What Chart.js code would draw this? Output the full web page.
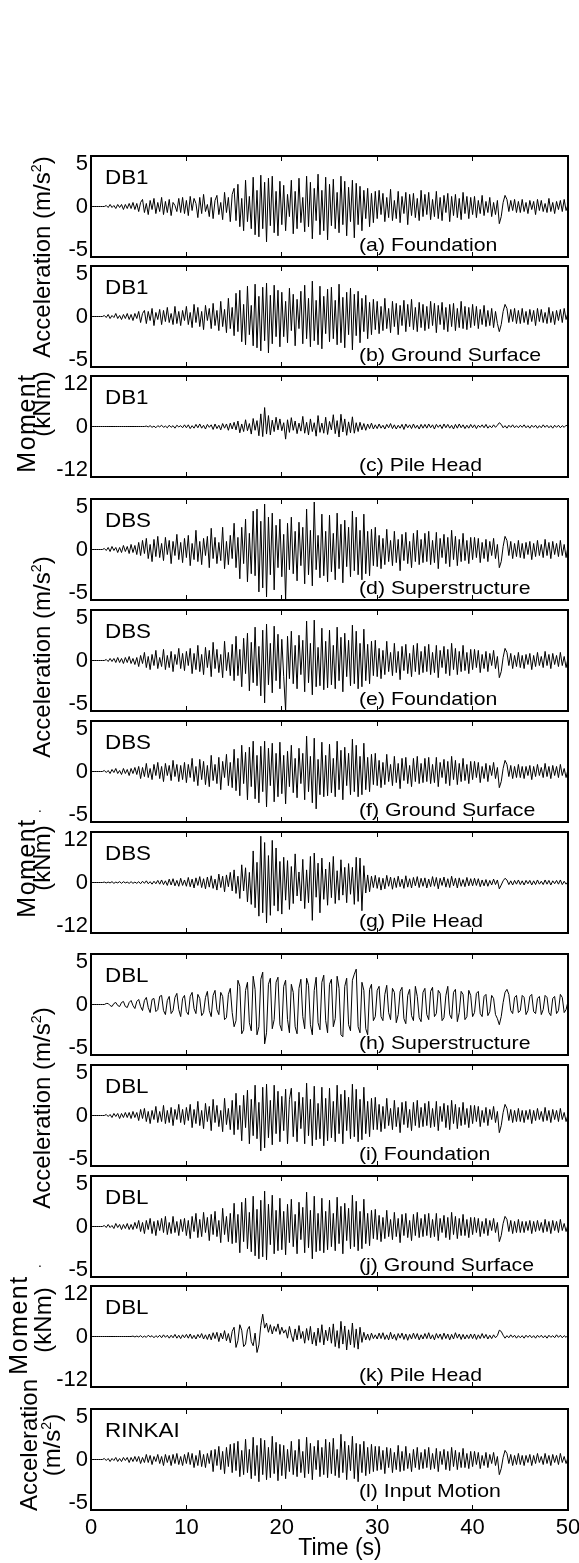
<!DOCTYPE html>
<html><head><meta charset="utf-8">
<script src="https://cdn.jsdelivr.net/npm/chart.js@4.4.1/dist/chart.umd.min.js"></script>
<style>
html,body{margin:0;padding:0;background:#fff;}
body{width:579px;height:1563px;position:relative;overflow:hidden;font-family:'Liberation Sans',Arial,Helvetica,sans-serif;color:#000;}
canvas{position:absolute;left:0;}
.t{position:absolute;white-space:nowrap;line-height:1;transform-origin:0 0;}
.rot{position:absolute;white-space:nowrap;line-height:1;transform:translate(-50%,-50%) rotate(-90deg);font-size:24px;}
.sup{font-size:0.6em;position:relative;top:-0.62em;}
</style></head><body>
<script>
// ---- sampling, tick labels ----
const DT = 0.2; // s between samples (0 ... 50 s)
const X_TICKS = [0, 10, 20, 30, 40, 50];
const ACC_TICKS = [-5, 0, 5];
const MOM_TICKS = [-12, 0, 12];
const STATIONS = ['DB1','DB1','DB1','DBS','DBS','DBS','DBS','DBL','DBL','DBL','DBL','RINKAI'];
const PANEL_LABELS = ['(a) Foundation','(b) Ground Surface','(c) Pile Head','(d) Superstructure','(e) Foundation','(f) Ground Surface','(g) Pile Head','(h) Superstructure','(i) Foundation','(j) Ground Surface','(k) Pile Head','(l) Input Motion'];

// ---- series (acceleration m/s^2, moment kNm) ----
const DB1_FOUNDATION = [
0,0,0,0,0,0,0,0,0.1,-0.1,0.2,-0.1,0.1,-0.2,0.2,-0.1,0.2,-0.3,0.2,-0.2,0.3,-0.2,0.4,-0.3,0.3,
-0.5,0.4,0.7,-0.6,0.3,-0.8,0.6,-0.3,0.8,-0.7,0.4,-0.5,0.9,-0.8,0.5,-0.6,0.7,-0.9,0.4,0.1,-0.5,0.8,-0.6,0.9,-0.7,
0.6,-0.9,1.0,-0.4,0.8,0.3,-1.1,0.9,-0.7,1.2,-0.5,0.2,-1.0,0.9,-1.2,0.6,1.1,-0.8,0.4,-1.3,1.4,-0.6,0.9,-1.5,1.2,
1.8,-1.4,2.2,-2.0,0.8,-2.4,2.6,-1.5,1.0,-2.2,2.9,-2.8,1.6,-3.0,3.1,-2.2,2.4,-3.5,2.8,-1.9,3.0,-2.6,1.5,-2.9,2.5,
-1.8,2.1,-2.4,1.2,-1.0,2.6,-2.7,1.5,-2.2,2.8,-1.6,0.9,-2.5,3.0,-2.0,2.4,-3.2,1.8,-1.4,3.2,-2.8,1.6,-2.4,2.9,-3.3,
2.2,-1.9,2.7,-2.2,1.4,-2.6,3.0,-1.8,2.5,-2.9,1.9,-1.5,2.6,-3.1,2.3,-1.8,2.0,-2.4,1.6,-1.2,1.8,-2.0,1.3,-1.6,1.5,
-1.2,1.6,-0.8,1.3,-1.5,0.9,-1.1,1.7,-1.4,0.6,-1.2,1.5,-1.6,1.0,-0.7,1.4,-1.8,1.2,-0.9,1.3,-1.1,0.8,-1.4,1.6,-1.0,
1.2,-0.8,1.4,-1.3,0.7,-1.0,1.5,-1.2,0.9,-1.4,1.1,-0.6,1.3,-1.5,1.0,-0.9,1.2,-1.1,0.8,-1.3,1.4,-0.7,1.0,-1.2,0.9,
-0.8,1.0,-1.1,0.6,-0.7,1.1,-0.9,0.5,-0.6,0.9,-1.0,0.4,-0.8,0.6,-1.7,-1.0,0.4,1.1,0.7,-0.5,0.6,-0.4,0.7,-0.6,0.5,
-0.6,0.7,-0.5,0.4,-0.7,0.6,-0.3,0.5,-0.8,0.7,-0.4,0.6,-0.5,0.3,-0.6,0.8,-0.5,0.4,-0.7,0.5,-0.3,0.6,-0.5,0.7,-0.4,
0.2];
const DB1_GROUND = [
0,0,0,0,0,0,0,0.1,-0.1,0.2,-0.2,0.1,-0.1,0.3,-0.2,0.1,-0.3,0.2,-0.2,0.3,-0.3,0.2,-0.4,0.3,-0.2,
0.5,-0.6,0.3,0.6,-0.7,0.5,-0.4,0.8,-0.9,0.4,-0.3,0.7,-0.8,0.6,-0.5,0.9,-0.6,0.3,-0.8,1.0,-0.7,0.5,-0.9,0.6,-0.4,
1.0,-0.8,0.4,-1.1,1.2,-0.6,0.9,-1.0,0.5,-1.3,1.1,-0.4,0.8,-1.2,1.3,-0.9,0.6,-1.4,1.5,-1.0,0.7,-1.6,1.8,-1.2,0.9,
-1.9,2.3,-1.5,2.6,-2.5,1.2,-2.8,3.0,-1.8,1.1,-2.9,3.2,-3.1,2.0,-3.4,2.9,-2.4,3.3,-3.6,2.1,-2.7,3.1,-2.0,2.6,-3.0,
2.4,-2.0,1.5,-2.6,2.8,-1.4,2.2,-2.9,1.7,-1.2,2.5,-2.7,3.1,-2.2,1.8,-3.0,3.5,-2.4,1.6,-2.8,3.0,-3.2,2.0,-1.7,2.7,
-2.5,2.9,-2.2,1.6,-2.8,3.2,-2.6,1.9,-3.1,2.4,-1.8,2.8,-3.3,2.2,-1.9,2.5,-2.6,1.8,-1.5,2.1,-2.2,1.4,-1.8,1.7,-1.3,
1.5,-1.7,1.0,-1.4,1.8,-1.2,0.8,-1.6,1.5,-1.0,1.3,-1.8,1.1,-0.9,1.6,-1.5,1.2,-1.0,1.7,-1.3,0.9,-1.5,1.4,-1.1,1.2,
-1.4,1.0,-1.2,1.5,-0.9,1.3,-1.6,1.1,-0.8,1.4,-1.3,0.9,-1.5,1.2,-1.0,1.3,-1.4,0.8,-1.1,1.5,-1.2,1.0,-1.3,0.9,-1.1,
1.2,-0.9,1.0,-1.2,0.7,-0.8,1.1,-1.0,0.6,-0.9,0.8,-1.1,0.5,-0.7,-1.5,-0.8,0.5,1.2,0.8,-0.6,0.7,-0.5,0.8,-0.7,0.6,
-0.7,0.8,-0.6,0.5,-0.8,0.7,-0.5,0.6,-0.9,0.8,-0.5,0.7,-0.6,0.4,-0.7,0.9,-0.6,0.5,-0.8,0.6,-0.4,0.7,-0.6,0.8,-0.3,
0.4];
const DB1_PILE = [
0,0,0,0,0,0,0,0,0,0,0,0,0,0,0,0,0,0,0,0,0,0,0,0,0,
0,0,0,0,0.1,-0.1,0.2,-0.2,0.1,-0.3,0.2,-0.1,0.3,-0.2,0.1,-0.3,0.3,-0.2,0.2,-0.4,0.3,-0.1,0.2,-0.3,0.4,
-0.3,0.4,-0.5,0.2,-0.4,0.5,-0.3,0.6,-0.4,0.3,-0.6,0.5,-0.2,0.4,-0.7,0.6,-0.5,0.3,-0.8,0.7,-0.4,0.6,-0.9,0.8,-0.6,
1.0,-0.8,1.3,-1.5,0.6,-1.2,1.6,-1.0,0.7,-1.8,1.9,-0.9,1.4,-2.2,3.0,-2.4,4.5,-1.8,2.6,-2.0,1.5,-1.2,2.2,-0.8,1.8,
-1.0,0.9,-3.0,1.6,-1.4,2.1,-0.9,1.3,-1.7,0.8,-1.1,2.4,-1.6,1.0,-2.0,1.8,-1.2,0.9,-2.3,2.6,-1.4,0.8,-1.6,2.2,-1.9,
1.2,-0.8,2.8,-1.7,1.4,-2.5,2.9,-1.3,1.8,-2.1,1.1,-1.5,2.3,-1.6,0.9,-1.2,1.0,-0.8,0.7,-0.9,0.6,-0.5,0.8,-0.6,0.4,
-0.5,0.6,-0.4,0.3,-0.6,0.5,-0.3,0.7,-0.5,0.4,-0.6,0.3,-0.4,0.5,-0.7,0.6,-0.3,0.4,-0.5,0.6,-0.4,0.3,-0.6,0.5,-0.4,
0.5,-0.4,0.6,-0.3,0.4,-0.6,0.5,-0.2,0.4,-0.5,0.6,-0.3,0.5,-0.4,0.3,-0.6,0.5,-0.4,0.6,-0.3,0.4,-0.5,0.3,-0.4,0.5,
-0.3,0.4,-0.5,0.3,-0.2,0.4,-0.3,0.5,-0.4,0.2,-0.3,0.4,-0.2,0.3,0.9,0.5,-0.3,0.2,-0.4,0.3,-0.2,0.4,-0.3,0.2,-0.3,
0.3,-0.2,0.4,-0.3,0.2,-0.4,0.3,-0.2,0.3,-0.4,0.2,-0.3,0.4,-0.2,0.3,-0.3,0.2,-0.4,0.3,-0.2,0.3,-0.3,0.2,-0.2,0.3,
0];
const DBS_SUPER = [
0,0,0,0,0,0,0,0.1,-0.1,0.2,-0.2,0.3,-0.1,0.2,-0.3,0.2,-0.3,0.4,-0.2,0.3,-0.4,0.5,-0.3,0.4,-0.5,
0.7,-0.6,0.9,-0.4,1.1,-0.9,0.5,-1.2,1.0,-0.7,1.3,-0.8,0.6,-1.1,1.2,-0.5,0.9,-1.4,0.8,-0.6,1.5,-1.0,0.7,-1.3,1.1,
-0.8,1.4,-1.6,0.6,-1.0,1.9,-1.2,0.8,-1.5,1.1,-0.6,1.3,-1.8,2.1,-0.9,1.2,-1.4,0.7,-1.1,2.2,-1.9,0.8,-1.5,1.4,-0.9,
2.6,-1.8,1.2,-2.9,2.2,-1.4,3.0,-3.2,1.6,-2.4,3.8,-2.6,4.0,-4.2,2.8,-3.8,4.5,-4.7,3.2,-2.5,3.6,-4.0,2.4,-1.8,3.0,
-2.7,1.5,-5.0,2.6,-2.0,3.2,-2.4,1.8,-3.1,2.7,-1.6,2.2,-3.4,4.0,-2.5,1.9,-3.6,4.7,-2.0,1.4,-2.8,3.5,-2.6,1.8,-3.2,
3.4,-2.2,1.6,-3.0,3.6,-1.9,2.5,-3.3,2.9,-1.7,2.2,-2.7,3.8,-2.1,3.2,-2.5,1.9,-3.0,3.5,-2.4,1.8,-2.6,2.0,-1.6,2.2,
-1.7,1.4,-1.9,1.1,-1.5,2.0,-1.2,0.9,-1.6,1.8,-1.3,1.0,-2.1,1.5,-1.1,1.7,-1.4,0.8,-1.8,1.6,-1.2,1.9,-1.5,1.0,-1.3,
1.6,-1.2,1.8,-1.5,0.9,-1.3,1.7,-1.9,1.1,-0.8,1.5,-1.4,1.2,-1.7,1.9,-1.0,1.3,-1.6,1.0,-1.2,1.6,-1.1,0.9,-1.4,1.2,
-1.0,1.2,-0.8,1.1,-1.3,0.7,-0.9,1.0,-1.2,0.8,-0.6,1.1,-0.9,0.5,-1.8,-1.2,0.3,1.3,0.9,-0.6,0.8,-0.9,0.6,-0.7,0.9,
-0.8,0.6,-0.9,0.7,-0.5,0.8,-1.0,0.6,-0.7,0.9,-0.6,0.5,-0.8,1.0,-0.6,0.7,-0.9,0.8,-0.5,0.6,-0.7,0.9,-0.6,0.5,-0.8,
0.3];
const DBS_FOUNDATION = [
0,0,0,0,0,0,0,0,0.1,-0.1,0.2,-0.1,0.2,-0.2,0.3,-0.2,0.2,-0.3,0.3,-0.2,0.4,-0.3,0.2,-0.4,0.3,
-0.6,0.5,-0.3,0.8,-0.7,0.4,-0.9,0.6,-0.5,1.0,-0.8,0.3,-0.6,1.1,-0.9,0.5,-0.7,0.9,-1.1,0.6,-0.4,1.2,-0.8,0.7,-1.0,
0.9,-0.5,1.2,-1.3,0.7,-0.9,1.5,-1.1,0.6,-1.4,1.3,-0.7,1.0,-1.6,1.8,-0.8,1.1,-1.2,0.6,-1.7,1.9,-1.0,0.8,-1.5,1.6,
-2.0,2.4,-1.5,1.1,-2.6,2.2,-1.3,2.7,-3.0,1.8,-2.2,3.3,-2.5,1.4,-3.5,3.0,-4.2,3.6,-2.4,1.7,-3.2,3.4,-2.0,2.6,-2.8,
2.1,-1.6,-5.0,2.4,-1.8,2.9,-2.3,1.5,-2.8,2.5,-1.4,2.0,-3.1,3.9,-2.2,1.7,-3.4,4.0,-2.6,1.3,-2.5,3.2,-2.9,1.9,-2.7,
3.0,-2.4,1.5,-2.8,3.3,-2.0,2.3,-3.1,2.7,-1.6,2.0,-2.5,3.5,-2.3,2.9,-2.8,1.7,-2.6,3.1,-2.0,1.6,-2.3,1.9,-1.5,2.0,
-1.6,1.2,-1.8,1.0,-1.4,1.9,-1.1,0.8,-1.5,1.7,-1.2,0.9,-1.9,1.4,-1.0,1.6,-1.3,0.7,-1.6,1.5,-1.1,1.7,-1.4,0.9,-1.2,
1.4,-1.1,1.6,-1.4,0.8,-1.2,1.5,-1.7,1.0,-0.7,1.4,-1.3,1.1,-1.5,1.7,-0.9,1.2,-1.4,0.9,-1.1,1.5,-1.0,0.8,-1.3,1.1,
-0.9,1.1,-0.7,1.0,-1.2,0.6,-0.8,0.9,-1.1,0.7,-0.5,1.0,-0.8,0.4,-1.7,-1.1,0.3,1.2,0.8,-0.5,0.7,-0.8,0.5,-0.6,0.8,
-0.7,0.5,-0.8,0.6,-0.4,0.7,-0.9,0.5,-0.6,0.8,-0.5,0.4,-0.7,0.9,-0.5,0.6,-0.8,0.7,-0.4,0.5,-0.6,0.8,-0.5,0.4,-0.7,
0.2];
const DBS_GROUND = [
0,0,0,0,0,0,0,0.1,-0.1,0.1,-0.2,0.2,-0.1,0.3,-0.2,0.1,-0.3,0.3,-0.2,0.2,-0.4,0.3,-0.2,0.4,-0.3,
0.5,-0.7,0.4,-0.5,0.8,-0.6,0.3,-0.8,0.7,-0.4,0.9,-0.7,0.5,-1.0,0.8,-0.4,0.6,-0.9,1.1,-0.5,0.7,-1.0,0.6,-0.8,0.9,
-1.1,0.7,-0.6,1.3,-1.0,0.5,-1.4,1.2,-0.8,1.0,-1.3,0.6,-1.5,1.6,-0.9,0.7,-1.2,1.4,-1.8,1.0,-0.6,1.7,-1.4,0.9,-1.6,
2.2,-1.9,1.3,-2.4,2.6,-1.2,1.9,-2.8,2.4,-1.5,3.0,-2.7,1.6,-3.1,2.5,-2.0,3.0,-3.5,2.3,-1.4,2.8,-3.0,1.8,-2.5,2.9,
-2.2,1.6,-3.2,2.0,-1.5,2.6,-2.1,1.3,-2.6,2.3,-1.2,1.8,-2.8,3.5,-2.0,1.5,-3.1,3.3,-3.7,1.2,-2.3,2.9,-2.5,1.6,-2.4,
2.7,-2.1,1.3,-2.5,3.0,-1.8,2.1,-2.8,2.4,-1.4,1.8,-2.3,3.2,-2.0,2.6,-2.5,1.5,-2.3,2.8,-1.8,1.4,-2.0,1.7,-1.3,1.8,
-1.4,1.1,-1.6,0.9,-1.3,1.7,-1.0,0.7,-1.4,1.5,-1.1,0.8,-1.7,1.3,-0.9,1.4,-1.2,0.6,-1.5,1.3,-1.0,1.5,-1.2,0.8,-1.1,
1.3,-1.0,1.4,-1.2,0.7,-1.1,1.4,-1.5,0.9,-0.6,1.2,-1.2,1.0,-1.4,1.5,-0.8,1.1,-1.3,0.8,-1.0,1.3,-0.9,0.7,-1.2,1.0,
-0.8,1.0,-0.6,0.9,-1.1,0.5,-0.7,0.8,-1.0,0.6,-0.4,0.9,-0.7,0.4,-1.6,-1.0,0.3,1.1,0.7,-0.5,0.6,-0.7,0.5,-0.6,0.7,
-0.6,0.5,-0.7,0.5,-0.4,0.6,-0.8,0.5,-0.5,0.7,-0.4,0.4,-0.6,0.8,-0.5,0.5,-0.7,0.6,-0.4,0.5,-0.6,0.7,-0.4,0.3,-0.6,
0.2];
const DBS_PILE = [
0,0,0,0,0,0,0,0.1,-0.1,0.1,-0.1,0.2,-0.2,0.1,-0.1,0.2,-0.2,0.2,-0.1,0.1,-0.2,0.2,-0.2,0.1,-0.2,
0.2,-0.3,0.3,-0.2,0.4,-0.3,0.2,-0.4,0.3,-0.3,0.5,-0.4,0.6,-0.5,0.4,-0.7,0.8,-0.6,0.9,-0.8,0.5,-0.9,1.0,-0.7,0.6,
-0.9,1.2,-1.0,0.8,-1.3,1.1,-0.7,1.4,-1.2,0.9,-1.5,1.3,-1.1,1.6,-1.4,0.8,-1.8,2.0,-1.2,1.5,-2.2,1.8,-1.0,2.4,-2.0,
3.0,-2.6,1.5,-3.8,4.2,-2.0,3.5,-4.6,2.4,-5.2,7.5,-6.0,4.8,-8.0,11.0,-7.2,9.5,-9.6,6.4,-7.8,10.0,-5.5,8.2,-6.8,5.0,
-7.5,6.0,-4.2,5.2,-6.4,3.8,-5.0,6.8,-3.2,2.5,-4.4,5.5,-6.2,3.0,-4.8,6.2,-9.0,7.0,-3.5,4.6,-7.2,5.8,-4.0,3.2,-5.4,
4.8,-3.6,6.2,-5.0,2.8,-4.2,5.4,-3.0,3.6,-4.8,4.5,-2.8,3.6,-5.2,6.0,-4.5,5.8,-6.7,4.0,-2.5,1.8,-2.2,1.5,-1.2,1.7,
-1.4,1.2,-1.8,1.0,-1.5,1.7,-0.9,1.3,-1.6,1.1,-1.2,1.5,-1.0,0.8,-1.4,1.6,-1.1,0.9,-1.3,1.2,-0.8,1.4,-1.2,1.0,-0.9,
1.1,-1.3,0.8,-1.0,1.4,-0.9,1.2,-1.5,1.0,-0.7,1.3,-1.1,0.9,-1.2,1.5,-0.8,1.0,-1.3,1.1,-0.9,0.7,-1.0,1.2,-0.8,0.9,
-0.8,1.0,-0.7,0.9,-1.0,0.6,-0.8,0.7,-0.9,0.5,-0.6,0.8,-0.5,0.6,-1.5,-0.6,0.4,1.0,0.6,-0.5,0.4,-0.6,0.5,-0.4,0.6,
-0.5,0.4,-0.6,0.5,-0.3,0.5,-0.6,0.4,-0.5,0.6,-0.4,0.3,-0.5,0.6,-0.4,0.5,-0.6,0.4,-0.3,0.5,-0.4,0.6,-0.5,0.3,-0.4,
0.2];
const DBL_SUPER = [
0,0,0,0,0,0,0,0,0.1,0.1,-0.1,-0.2,0.1,0.2,-0.1,-0.2,0.2,0.3,-0.2,-0.3,0.2,0.4,-0.1,-0.4,0.3,
0.5,-0.2,-0.6,0.4,0.7,-0.3,-0.8,0.5,0.6,-0.7,-0.5,0.8,0.9,-0.6,-1.0,0.4,0.8,-0.9,-0.6,0.7,1.1,-0.5,-1.2,0.6,0.9,
-0.7,-1.0,0.8,1.2,-0.4,-0.9,1.0,0.6,-1.1,-0.8,0.7,1.3,-0.6,-1.2,0.9,1.4,-0.5,-1.0,1.2,0.8,-1.5,-1.3,1.0,1.6,-0.8,
-2.2,-1.6,2.4,1.8,-2.9,-2.5,1.4,2.2,-1.8,-2.6,2.8,1.5,-3.0,-2.2,2.5,3.2,-3.9,-2.8,2.0,2.6,-2.4,-1.5,2.2,2.7,-2.0,
-2.6,1.8,2.4,-1.5,-2.8,2.0,1.2,-2.2,-2.9,1.6,2.5,-1.2,-2.4,2.6,1.9,-2.0,-3.0,1.4,2.7,-1.8,-2.5,2.2,2.9,-1.6,-2.8,
2.0,2.5,-2.2,-1.4,2.8,1.6,-3.0,-3.2,1.8,2.6,-2.0,-2.6,2.4,3.0,3.5,-2.2,-2.8,2.2,1.4,-2.4,-3.0,1.5,2.0,-1.6,-1.2,
1.4,1.8,-1.2,-1.6,1.0,1.9,-0.8,-1.5,1.6,1.2,-1.8,-1.0,1.3,1.7,-1.4,-1.9,0.9,1.5,-1.1,-1.6,1.8,0.8,-1.3,-1.7,1.2,
1.6,-1.0,-1.5,1.3,1.7,-1.2,-0.9,1.4,1.1,-1.6,-1.3,0.9,1.8,-1.0,-1.4,1.2,1.5,-1.7,-0.8,1.3,1.0,-1.5,-1.2,1.4,0.9,
-1.2,-0.8,1.1,1.3,-0.9,-1.2,0.8,1.0,-1.1,-0.7,0.9,0.6,-1.0,-1.4,-2.0,-1.2,0.2,1.2,1.5,1.0,-0.6,-0.9,0.7,0.9,-0.8,
-0.6,0.9,0.7,-1.0,-0.6,0.8,1.0,-0.7,-0.9,0.6,0.8,-1.0,-0.5,0.9,0.7,-0.8,-1.1,0.6,0.8,-0.9,-0.6,1.0,0.7,-0.8,-0.5,
0.3];
const DBL_FOUNDATION = [
0,0,0,0,0,0,0,0,0.1,-0.1,0.1,-0.2,0.2,-0.1,0.2,-0.3,0.2,-0.2,0.3,-0.2,0.3,-0.3,0.4,-0.2,0.3,
-0.5,0.6,-0.3,0.7,-0.6,0.4,-0.8,0.5,-0.4,0.9,-0.7,0.4,-0.6,1.0,-0.8,0.5,-0.7,0.8,-1.0,0.6,-0.4,1.1,-0.7,0.6,-0.9,
0.8,-0.5,1.1,-1.2,0.6,-0.8,1.4,-1.0,0.5,-1.3,1.2,-0.6,0.9,-1.5,1.6,-0.7,1.0,-1.1,0.5,-1.6,1.7,-0.9,0.7,-1.4,1.5,
-1.9,2.2,-1.4,1.0,-2.5,2.0,-1.2,2.5,-2.8,1.6,-2.0,3.0,-2.3,1.3,-3.5,2.8,-3.2,3.1,-2.2,1.5,-2.9,3.0,-1.8,2.4,-2.6,
1.9,-1.5,2.6,-2.8,1.6,2.7,-2.1,1.4,-2.6,2.3,-1.3,1.8,-2.8,3.2,-2.0,1.6,-3.0,2.9,-2.4,1.2,-2.3,2.8,-3.0,1.7,-2.5,
2.7,-2.2,1.4,-2.6,3.0,-1.8,2.1,-2.8,2.5,-1.5,1.8,-2.3,3.1,-2.1,2.6,-2.6,1.6,-2.4,2.8,-1.8,1.4,-2.1,1.7,-1.4,1.8,
-1.4,1.1,-1.6,0.9,-1.3,1.7,-1.0,0.7,-1.4,1.5,-1.1,0.8,-1.7,1.3,-0.9,1.4,-1.2,0.6,-1.5,1.3,-1.0,1.5,-1.2,0.8,-1.1,
1.2,-1.0,1.4,-1.2,0.7,-1.1,1.4,-1.5,0.9,-0.6,1.2,-1.2,1.0,-1.4,1.5,-0.8,1.1,-1.3,0.8,-1.0,1.3,-0.9,0.7,-1.2,1.0,
-0.8,1.0,-0.6,0.9,-1.1,0.5,-0.7,0.8,-1.0,0.6,-0.4,0.9,-0.7,0.4,-1.7,-1.0,0.3,1.1,0.7,-0.5,0.6,-0.7,0.5,-0.6,0.7,
-0.6,0.5,-0.7,0.5,-0.4,0.6,-0.8,0.5,-0.5,0.7,-0.4,0.4,-0.6,0.8,-0.5,0.5,-0.7,0.6,-0.4,0.5,-0.6,0.7,-0.4,0.3,-0.6,
0.1];
const DBL_GROUND = [
0,0,0,0,0,0,0,0.1,-0.1,0.2,-0.1,0.1,-0.2,0.3,-0.1,0.2,-0.3,0.2,-0.2,0.3,-0.3,0.2,-0.3,0.4,-0.2,
0.6,-0.5,0.4,-0.7,0.6,-0.3,0.8,-0.7,0.5,-0.9,0.6,-0.4,0.8,-0.6,1.0,-0.8,0.4,-0.7,1.0,-0.6,0.5,-0.9,0.7,-0.5,0.8,
-0.9,0.6,-1.2,1.0,-0.5,1.3,-1.1,0.7,-1.0,1.4,-0.6,0.9,-1.4,1.2,-0.8,1.5,-1.0,0.6,-1.6,1.8,-0.8,1.0,-1.5,1.3,-1.7,
2.3,-1.6,1.2,-2.6,2.4,-1.5,2.8,-2.2,1.4,-2.5,3.0,-2.9,1.7,-3.2,2.6,-3.0,3.5,-3.3,2.2,-1.8,3.1,-2.7,1.6,-2.4,2.8,
-2.3,1.5,-2.8,2.2,-1.6,2.7,-2.0,1.2,-2.7,2.4,-1.3,1.9,-2.6,3.4,-2.1,1.6,-3.2,3.0,-2.5,1.3,-2.4,2.8,-2.6,1.5,-2.3,
2.6,-2.0,1.3,-2.4,2.9,-1.7,2.0,-2.7,2.3,-1.4,1.8,-2.2,3.1,-2.0,2.5,-2.4,1.5,-2.2,2.7,-1.7,1.3,-1.9,1.6,-1.2,1.7,
-1.3,1.1,-1.5,0.9,-1.2,1.6,-1.0,0.7,-1.3,1.4,-1.0,0.8,-1.6,1.2,-0.9,1.3,-1.1,0.6,-1.4,1.2,-0.9,1.4,-1.1,0.8,-1.0,
1.2,-0.9,1.3,-1.1,0.7,-1.0,1.3,-1.4,0.8,-0.6,1.1,-1.1,0.9,-1.3,1.4,-0.8,1.0,-1.2,0.8,-0.9,1.2,-0.9,0.7,-1.1,0.9,
-0.8,0.9,-0.6,0.8,-1.0,0.5,-0.7,0.8,-0.9,0.6,-0.4,0.8,-0.6,0.4,-1.5,-0.9,0.3,1.0,0.7,-0.5,0.6,-0.7,0.5,-0.6,0.7,
-0.6,0.5,-0.6,0.5,-0.4,0.6,-0.7,0.5,-0.5,0.6,-0.4,0.4,-0.6,0.7,-0.5,0.5,-0.7,0.6,-0.4,0.5,-0.6,0.7,-0.4,0.3,-0.5,
0.2];
const DBL_PILE = [
0,0,0,0,0,0,0,0,0,0,0,0,0,0,0,0,0,0,0,0,0,0,0.1,-0.1,0.1,
-0.1,0.2,-0.2,0.1,-0.2,0.3,-0.1,0.2,-0.3,0.2,-0.2,0.3,-0.3,0.4,-0.2,0.3,-0.4,0.3,-0.3,0.5,-0.4,0.3,-0.5,0.4,-0.3,
0.5,-0.4,0.6,-0.5,0.3,-0.6,0.5,-0.3,0.7,-0.6,0.4,-0.7,0.6,-0.8,0.9,-0.5,1.0,-1.2,0.8,-0.6,1.4,-1.0,0.7,-1.5,1.2,
2.2,-2.6,-1.0,2.8,1.5,-2.4,-1.8,1.6,2.4,-1.2,-2.2,0.8,-3.8,-2.0,2.6,5.3,2.0,3.2,1.0,2.8,0.6,2.4,1.2,3.0,0.5,
2.2,0.8,1.6,-0.4,2.4,0.3,-1.2,1.8,-0.8,2.6,-0.5,1.2,-1.6,1.9,-0.9,2.4,-1.8,1.0,-2.2,2.0,-1.4,2.8,-2.0,1.5,-1.0,
2.2,-1.6,3.0,-2.4,1.4,-2.8,3.6,-1.8,2.5,-3.2,1.6,-2.0,3.2,-2.6,1.8,-3.0,2.2,-1.4,1.0,-0.8,0.6,-0.9,0.8,-0.5,0.4,
-0.6,0.8,-0.5,0.9,-0.7,0.4,-0.8,1.0,-0.6,0.5,-0.9,0.7,-0.4,0.8,-0.7,0.6,-0.9,0.5,-0.6,0.8,-0.5,0.7,-0.8,0.4,-0.6,
0.7,-0.5,0.9,-0.6,0.4,-0.8,0.7,-0.4,0.6,-0.7,0.8,-0.5,0.6,-0.8,0.5,-0.6,0.9,-0.4,0.6,-0.7,0.5,-0.6,0.4,-0.5,0.6,
-0.5,0.6,-0.7,0.4,-0.5,0.7,-0.4,0.5,-0.6,0.3,-0.5,0.4,-0.3,0.2,1.5,1.2,0.3,-0.4,0.2,-0.3,0.4,-0.2,0.3,-0.4,0.2,
-0.3,0.2,-0.4,0.3,-0.2,0.3,-0.3,0.2,-0.4,0.3,-0.2,0.3,-0.3,0.2,-0.4,0.3,-0.2,0.2,-0.3,0.4,-0.2,0.3,-0.3,0.2,-0.2,
0.3];
const RINKAI_INPUT = [
0,0,0,0,0,0,0,0.1,-0.1,0.1,-0.2,0.1,-0.1,0.2,-0.2,0.1,-0.2,0.2,-0.1,0.2,-0.3,0.2,-0.2,0.3,-0.2,
0.3,-0.4,0.2,-0.3,0.5,-0.3,0.4,-0.5,0.3,-0.2,0.5,-0.4,0.3,-0.6,0.5,-0.3,0.4,-0.6,0.5,-0.4,0.6,-0.5,0.3,-0.6,0.5,
-0.4,0.7,-0.5,0.6,-0.8,0.4,-0.6,0.9,-0.7,0.5,-0.8,0.6,-0.4,0.9,-1.2,1.0,-0.6,1.3,-1.0,0.8,-1.4,1.2,-0.7,1.5,-1.3,
1.6,-1.1,1.8,-1.7,0.9,-1.5,2.0,-1.3,1.0,-1.9,2.2,-1.6,1.4,-2.2,2.1,-1.5,1.9,-2.0,1.2,-1.8,2.3,-1.4,1.7,-2.1,1.5,
-1.6,1.4,-1.9,1.0,-1.2,1.8,-1.5,0.9,-1.7,2.0,-1.3,0.8,-1.8,2.2,-1.4,1.6,-2.0,1.3,-1.0,1.9,-1.7,1.2,-1.5,2.0,-1.8,
1.7,-1.4,2.1,-1.6,1.0,-1.8,2.5,-1.3,1.8,-2.0,1.4,-1.1,2.3,-1.9,1.6,-2.2,1.5,-1.3,1.8,-1.6,1.2,-1.4,1.5,-1.2,1.3,
-1.1,1.3,-1.0,0.9,-1.4,1.2,-0.8,1.1,-1.3,0.7,-1.0,1.4,-1.2,0.8,-1.1,1.3,-0.9,0.6,-1.2,1.0,-0.8,1.2,-1.0,0.7,-0.9,
1.0,-0.8,1.2,-1.0,0.6,-0.9,1.1,-1.2,0.8,-0.5,1.0,-1.0,0.8,-1.1,1.2,-0.7,0.9,-1.0,0.7,-0.8,1.1,-0.8,0.6,-0.9,0.8,
-0.7,0.8,-0.5,0.7,-0.9,0.4,-0.6,0.7,-0.8,0.5,-0.4,0.7,-0.6,0.3,-1.5,-0.9,0.2,0.9,0.6,-0.4,0.5,-0.6,0.4,-0.5,0.6,
-0.5,0.4,-0.6,0.4,-0.3,0.5,-0.6,0.4,-0.4,0.6,-0.3,0.3,-0.5,0.6,-0.4,0.4,-0.6,0.5,-0.3,0.4,-0.5,0.6,-0.3,0.3,-0.4,
0.2];

const SERIES = [DB1_FOUNDATION, DB1_GROUND, DB1_PILE, DBS_SUPER, DBS_FOUNDATION, DBS_GROUND, DBS_PILE, DBL_SUPER, DBL_FOUNDATION, DBL_GROUND, DBL_PILE, RINKAI_INPUT];
const Y_TICKS = [ACC_TICKS, ACC_TICKS, MOM_TICKS, ACC_TICKS, ACC_TICKS, ACC_TICKS, MOM_TICKS, ACC_TICKS, ACC_TICKS, ACC_TICKS, MOM_TICKS, ACC_TICKS];

// ---- layout (page pixels) ----
const TOPS = [156, 266, 376, 499, 610, 721, 832, 954, 1065, 1176, 1286, 1409];
const PH = 101, LEFT = 91, RIGHT = 568, W = 579, H = 1563, M = 20;

Chart.defaults.font.family = "'Liberation Sans', Arial, Helvetica, sans-serif";
Chart.defaults.color = '#000';

function frameGrid() {
  return {display: true, drawOnChartArea: false, drawTicks: true, tickLength: -5, tickColor: '#000', tickWidth: 1};
}
function noPad(s) { s.paddingLeft = 0; s.paddingRight = 0; s.paddingTop = 0; s.paddingBottom = 0; }

SERIES.forEach((vals, k) => {
  const last = k === SERIES.length - 1;
  const top = TOPS[k];
  const ch = last ? H - (top - M) : PH + 2 * M;
  const cv = document.createElement('canvas');
  cv.width = W; cv.height = ch;
  cv.style.top = (top - M) + 'px';
  cv.style.width = W + 'px'; cv.style.height = ch + 'px';
  document.body.appendChild(cv);
  const yt = Y_TICKS[k];
  const lo = yt[0], hi = yt[yt.length - 1];
  const pts = vals.map((v, i) => ({x: i * DT, y: v}));
  const bottomAxisH = last ? 40 : 0;
  new Chart(cv, {
    type: 'line',
    data: {datasets: [{data: pts, borderColor: '#000', borderWidth: 1, pointRadius: 0, tension: 0, fill: false}]},
    options: {
      responsive: false, animation: false, devicePixelRatio: 1, parsing: false, events: [],
      layout: {padding: {top: M, left: 0, right: W - RIGHT, bottom: ch - M - PH - bottomAxisH}},
      plugins: {legend: {display: false}, tooltip: {enabled: false}, title: {display: false}},
      scales: {
        x: {
          type: 'linear', axis: 'x', position: 'bottom', min: 0, max: 50,
          afterBuildTicks: s => { s.ticks = X_TICKS.map(v => ({value: v})); },
          afterFit: s => { s.height = bottomAxisH; noPad(s); },
          grid: frameGrid(),
          border: {display: true, color: '#000', width: 2},
          ticks: {display: last, color: '#000', padding: 10, font: {size: 22}, maxRotation: 0, autoSkip: false, callback: v => String(v)}
        },
        xt: {
          type: 'linear', axis: 'x', position: 'top', min: 0, max: 50,
          afterBuildTicks: s => { s.ticks = X_TICKS.map(v => ({value: v})); },
          afterFit: s => { s.height = 0; noPad(s); },
          grid: frameGrid(),
          border: {display: true, color: '#000', width: 2},
          ticks: {display: false}
        },
        y: {
          type: 'linear', axis: 'y', position: 'left', min: lo, max: hi,
          afterBuildTicks: s => { s.ticks = yt.map(v => ({value: v})); },
          afterFit: s => { s.width = LEFT; noPad(s); },
          grid: {display: false, drawTicks: false},
          border: {display: true, color: '#000', width: 2},
          ticks: {color: '#000', padding: 3, font: {size: 22, lineHeight: 0.68},
            callback: v => v === hi ? ['', String(v)] : (v === lo ? [String(v), ''] : String(v))}
        },
        yr: {
          type: 'linear', axis: 'y', position: 'right', min: lo, max: hi,
          afterFit: s => { s.width = 0; noPad(s); },
          grid: {display: false, drawTicks: false},
          border: {display: true, color: '#000', width: 2},
          ticks: {display: false}
        }
      }
    }
  });

  // station name (top-left) and panel caption (bottom)
  const st = document.createElement('div');
  st.className = 't';
  st.style.cssText = 'left:105px;top:' + (top + 11) + 'px;font-size:20px;transform:scaleX(1.12);';
  st.textContent = STATIONS[k];
  document.body.appendChild(st);
  const lb = document.createElement('div');
  lb.className = 't';
  const base = top + PH - (last ? 13 : 6);
  lb.style.cssText = 'left:359px;top:' + (base - 16) + 'px;font-size:19px;transform:scaleX(1.12);';
  lb.textContent = PANEL_LABELS[k];
  document.body.appendChild(lb);
});

// ---- axis titles ----
function rot(html, cx, cy, extra) {
  const d = document.createElement('div');
  d.className = 'rot';
  d.style.left = cx + 'px'; d.style.top = cy + 'px';
  if (extra) d.style.cssText += extra;
  d.innerHTML = html;
  document.body.appendChild(d);
}
const ACC = 'Acceleration (m/s<span class="sup">2</span>)';
rot(ACC, 42, 257);
rot('Moment', 26, 423, 'letter-spacing:1.5px;font-size:25px;');
rot('(kNm)', 42, 404);
rot(ACC, 42, 657);
rot('Moment', 26, 868, 'letter-spacing:1.5px;font-size:25px;');
rot('(kNm)', 42, 858);
rot(ACC, 42, 1108);
rot('Moment', 18, 1325, 'letter-spacing:1.5px;font-size:25px;');
rot('(kNm)', 43, 1320);
rot('Acceleration', 29, 1445);
rot('(m/s<span class="sup">2</span>)', 52, 1445);

const tm = document.createElement('div');
tm.className = 't';
tm.style.cssText = 'left:340px;top:1536px;font-size:23px;transform:translateX(-50%);';
tm.textContent = 'Time (s)';
document.body.appendChild(tm);

[[40, 812], [40, 1267]].forEach(([x, y]) => {
  const d = document.createElement('div');
  d.className = 't';
  d.style.cssText = 'left:' + (x - 2) + 'px;top:' + (y - 12) + 'px;font-size:14px;';
  d.textContent = '.';
  document.body.appendChild(d);
});
</script>
</body></html>
